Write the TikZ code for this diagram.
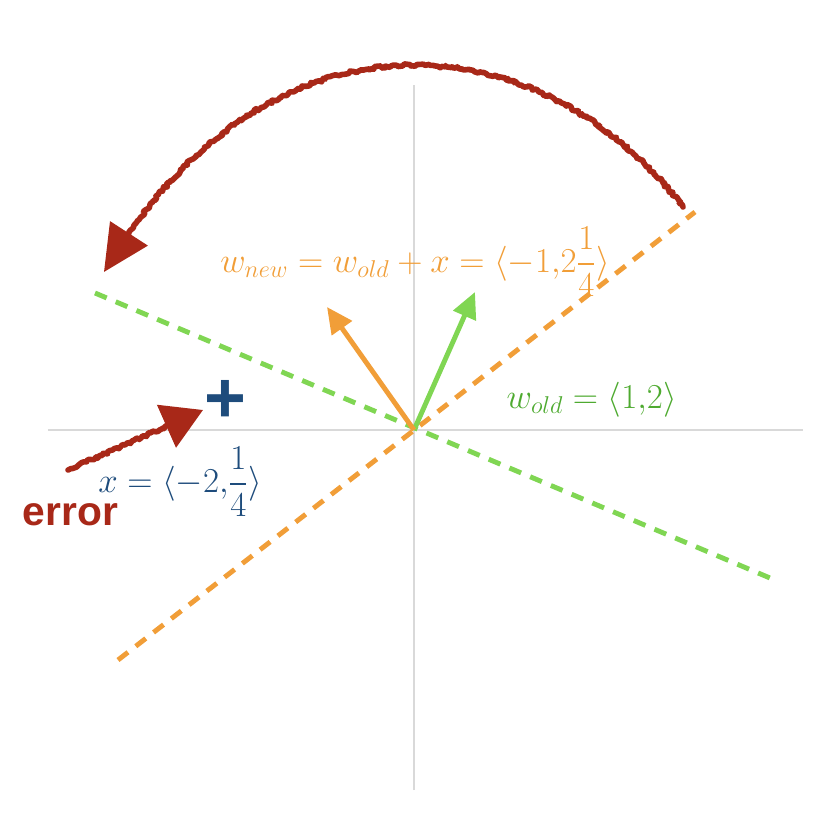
\documentclass[tikz,border=0pt]{standalone}
\usepackage{amsmath}
\usepackage{fontspec}
\setsansfont{Liberation Sans}
\usetikzlibrary{arrows.meta, positioning, calc, decorations.pathmorphing}
\definecolor{percOrange}{RGB}{241,158,56}
\definecolor{percGreen}{RGB}{128,214,83}
\definecolor{percDkGreen}{RGB}{78,170,48}
\definecolor{percBlue}{RGB}{30,76,124}
\definecolor{percRed}{RGB}{168,40,24}

\begin{document}
\begin{tikzpicture}[>=Stealth,
  ax/.style={draw=gray!30, line width=1.4pt},
  bound/.style={line width=3.5pt, dash pattern=on 9pt off 7pt},
  vec/.style={line width=3.5pt, -{Triangle[length=0.65cm,width=0.6cm]}},
  lbl/.style={font=\fontsize{24}{28}\selectfont, inner sep=0pt},
  rough/.style={draw=percRed, line width=4pt, line join=round, line cap=round, decorate,
                decoration={random steps, segment length=1.5pt, amplitude=1.1pt}}]
  \pgfmathsetseed{11}
  \useasboundingbox (-10.35,-9.65) rectangle (10.5,10.75);

  % axes
  \coordinate (o) at (0,0);
  \coordinate (axW) at (-9.15,0);  \coordinate (axE) at (9.725,0);
  \coordinate (axN) at (0,8.625);  \coordinate (axS) at (0,-9.0);
  \draw[ax] (axW) -- (axE);
  \draw[ax] (axS) -- (axN);

  % decision boundaries
  \coordinate (gW) at (-7.975,3.425);  \coordinate (gE) at (8.9,-3.7);
  \coordinate (oSW) at (-7.4,-5.75);   \coordinate (oNE) at (7.025,5.45);
  \draw[bound, percOrange] (oSW) -- (oNE);
  \draw[bound, percGreen] (gW) -- (gE);

  % weight vectors
  \coordinate (wold) at (1.525,3.45);
  \coordinate (wnew) at (-2.175,3.075);
  \draw[vec, percGreen] (o) -- (wold);
  \draw[vec, percOrange] (o) -- (wnew);

  % labels
  \node[lbl, text=percDkGreen] (woldlbl) at (4.44,0.75) {$w_{old} = \langle 1{,}2\rangle$};
  \node[lbl, text=percOrange] (wnewlbl) at (0.025,4.21)
    {$w_{new} = w_{old} + x = \langle -1{,}2\dfrac{1}{4}\rangle$};
  \node[lbl, text=percBlue] (xlbl) at (-5.85,-1.29) {$x = \langle -2{,}\dfrac{1}{4}\rangle$};
  \node[inner sep=0pt, text=percBlue, font=\sffamily\bfseries\fontsize{51}{51}\selectfont]
    (plus) at (-4.725,0.725) {+};
  \node[inner sep=0pt, text=percRed, font=\sffamily\bfseries\fontsize{29}{30}\selectfont]
    (errlbl) at (-8.59,-2.11) {error};

  % error push and flip
  \coordinate (xA) at (-8.65,-1.0);   \coordinate (xB) at (-5.275,0.5);
  \coordinate (xC) at ($(xA)!0.75!(xB)$);
  \draw[rough] (xA) -- (xC);
  \draw[line width=3pt, percRed, -{Triangle[length=1.0cm,width=1.15cm]}] (xC) -- (xB);

  \coordinate (flipA) at (6.725,5.575);  \coordinate (flipB) at (-7.75,3.95);
  \coordinate (flipC) at ($(flipB)!0.8cm!(-3.55,10.45)$);
  \draw[rough] (flipA) .. controls (2.92,10.45) and (-3.55,10.45) .. (flipC);
  \draw[line width=3pt, percRed, -{Triangle[length=1.15cm,width=1.1cm]}] (flipC) -- (flipB);

\end{tikzpicture}
\end{document}
